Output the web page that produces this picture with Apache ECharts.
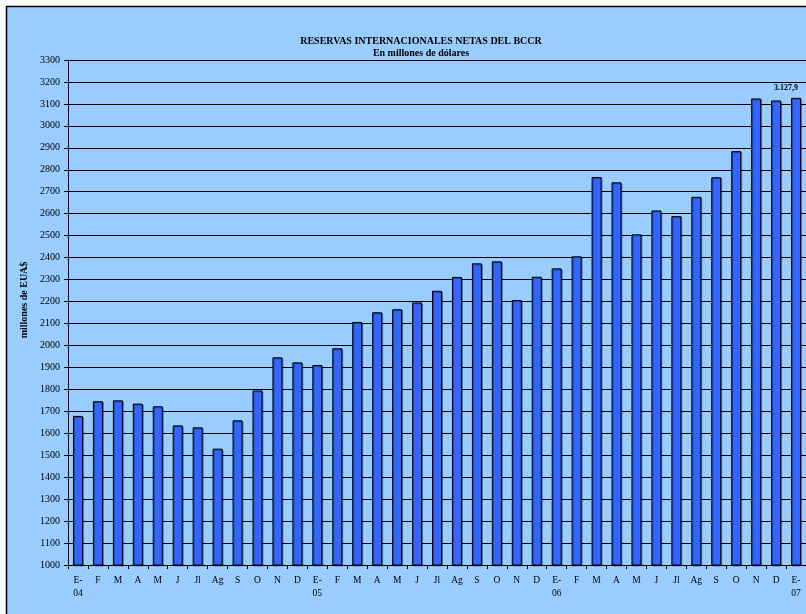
<!DOCTYPE html>
<html>
<head>
<meta charset="utf-8">
<style>html,body{margin:0;padding:0;background:#fff;}#c{width:806px;height:614px;}</style>
<script src="https://cdn.jsdelivr.net/npm/echarts@6/dist/echarts.min.js"></script>
</head>
<body>
<div id="c"></div>
<script>
const categories = ['E-\n04','F','M','A','M','J','Jl','Ag','S','O','N','D',
  'E-\n05','F','M','A','M','J','Jl','Ag','S','O','N','D',
  'E-\n06','F','M','A','M','J','Jl','Ag','S','O','N','D','E-\n07'];
const reservas = [1679,1746,1750,1735,1723,1636,1627,1530,1659,1795,1946,1923,
  1911,1987,2107,2151,2165,2196,2249,2312,2374,2383,2207,2313,
  2351,2406,2767,2743,2506,2615,2589,2677,2766,2885,3125,3116,3127.9];
const yTicks = {min:1000, max:3300, interval:100};
const titleText = 'RESERVAS INTERNACIONALES NETAS DEL BCCR';
const subtitleText = 'En millones de dólares';
const yName = 'millones de EUA$';
const lastLabel = '3.127,9';

const font = '"Liberation Serif", "Times New Roman", serif';
const chart = echarts.init(document.getElementById('c'));
chart.setOption({
  backgroundColor: '#ffffff',
  animation: false,
  title: {
    text: titleText, subtext: subtitleText,
    left: 416, top: 31, textAlign: 'center', itemGap: 2,
    textStyle: {fontFamily: font, fontSize: 10, fontWeight: 'bold', color: '#000'},
    subtextStyle: {fontFamily: font, fontSize: 10, fontWeight: 'bold', color: '#000'}
  },
  graphic: [
    {type: 'rect', z: -100, shape: {x: 6.5, y: 6.5, width: 900, height: 700},
     style: {fill: '#99CCFF', stroke: '#000', lineWidth: 1.5}},
    {type: 'text', x: 24, y: 300, rotation: Math.PI / 2,
     style: {text: yName, fontFamily: font, fontSize: 10, fontWeight: 'bold', fill: '#000',
       align: 'center', verticalAlign: 'middle'}}
  ],
  grid: {left: 68, top: 60, width: 740, height: 505, containLabel: false},
  xAxis: {
    type: 'category', data: categories,
    axisLine: {lineStyle: {color: '#000', width: 1}},
    axisTick: {show: true, alignWithLabel: false, length: 4, lineStyle: {color: '#000'}},
    axisLabel: {fontFamily: font, fontSize: 9.5, color: '#000', margin: 9, lineHeight: 13, interval: 0}
  },
  yAxis: {
    type: 'value', min: yTicks.min, max: yTicks.max, interval: yTicks.interval,
    axisLine: {show: true, lineStyle: {color: '#000', width: 1}},
    axisTick: {show: true, length: 4, lineStyle: {color: '#000'}},
    axisLabel: {fontFamily: font, fontSize: 10, color: '#000', margin: 8,
      formatter: v => String(v)},
    splitLine: {lineStyle: {color: '#000', width: 1}}
  },
  series: [{
    type: 'bar', data: reservas.map((v, i) => i === reservas.length - 1 ? {
      value: v,
      label: {show: true, position: 'top', formatter: lastLabel, offset: [-10, -1],
        fontFamily: font, fontSize: 8, fontWeight: 'bold', color: '#000'}
    } : v),
    barWidth: 10,
    itemStyle: {color: '#3366FF', borderColor: '#000', borderWidth: 1,
      shadowColor: 'rgba(0,0,0,0.35)', shadowOffsetX: 1, shadowOffsetY: 1, shadowBlur: 0}
  }]
});
</script>
</body>
</html>
